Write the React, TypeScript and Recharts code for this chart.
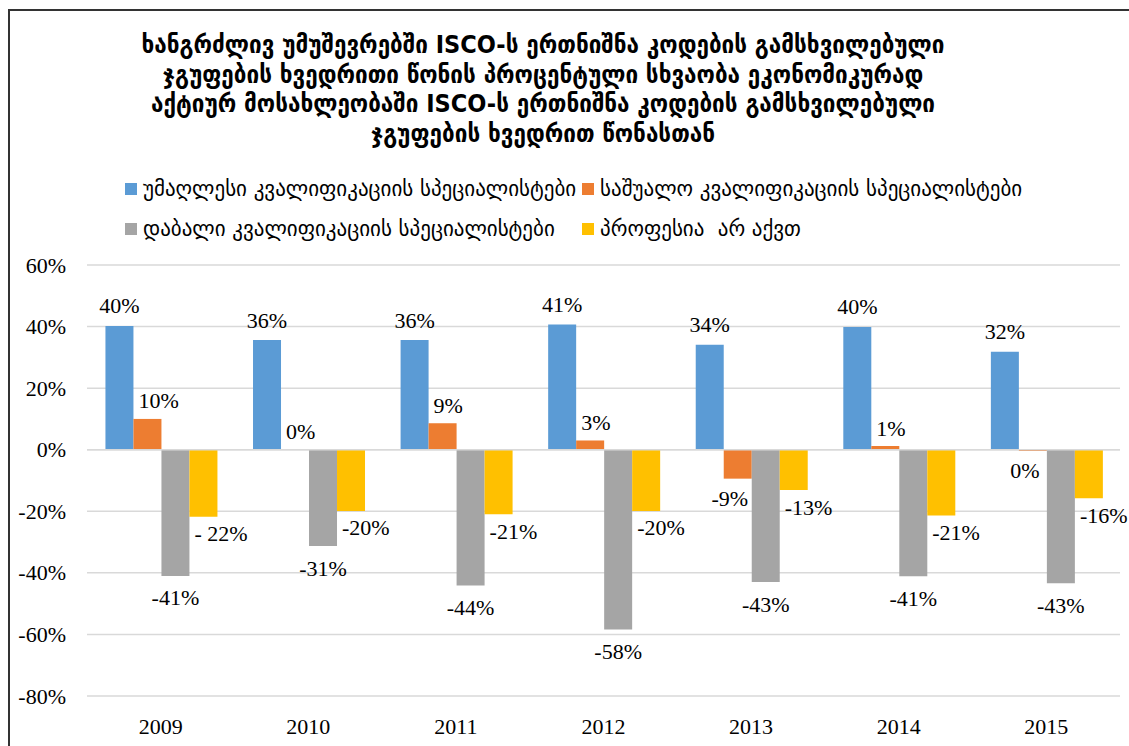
import React from 'react';
import {
  BarChart,
  Bar,
  XAxis,
  YAxis,
  CartesianGrid,
  ReferenceLine,
  LabelList,
} from 'recharts';

// years on the horizontal axis
const years = ['2009', '2010', '2011', '2012', '2013', '2014', '2015'];

// percentage point differences
const highSkill = [40.2, 35.6, 35.6, 40.7, 34.1, 39.9, 31.8];
const midSkill = [10.0, 0.2, 8.6, 3.0, -9.4, 1.2, -0.4];
const lowSkill = [-41.0, -31.3, -44.1, -58.4, -43.0, -41.1, -43.4];
const noProfession = [-21.8, -19.9, -21.0, -19.9, -13.1, -21.4, -15.8];

// data labels as printed on the chart
const highLabels = ['40%', '36%', '36%', '41%', '34%', '40%', '32%'];
const midLabels = ['10%', '0%', '9%', '3%', '-9%', '1%', '0%'];
const lowLabels = ['-41%', '-31%', '-44%', '-58%', '-43%', '-41%', '-43%'];
const noProfLabels = ['- 22%', '-20%', '-21%', '-20%', '-13%', '-21%', '-16%'];

const yTicks = [-80, -60, -40, -20, 0, 20, 40, 60];

const titleLines = [
  'ხანგრძლივ უმუშევრებში ISCO-ს ერთნიშნა კოდების გამსხვილებული',
  'ჯგუფების ხვედრითი წონის პროცენტული სხვაობა ეკონომიკურად',
  'აქტიურ მოსახლეობაში ISCO-ს ერთნიშნა კოდების გამსხვილებული',
  'ჯგუფების ხვედრით წონასთან',
];

const seriesNames = [
  'უმაღლესი კვალიფიკაციის სპეციალისტები',
  'საშუალო კვალიფიკაციის სპეციალისტები',
  'დაბალი კვალიფიკაციის სპეციალისტები',
  'პროფესია  არ აქვთ',
];
const seriesColors = ['#5b9bd5', '#ed7d31', '#a5a5a5', '#ffc000'];

const data = years.map((year, i) => ({
  year,
  high: highSkill[i],
  mid: midSkill[i],
  low: lowSkill[i],
  none: noProfession[i],
}));

const numFont = '"Liberation Serif", "Times New Roman", serif';
const geoFont = '"DejaVu Sans", sans-serif';

type LabelMode = 'high' | 'mid' | 'low' | 'none';

function makeLabel(mode: LabelMode, texts: string[], values: number[]) {
  // eslint-disable-next-line @typescript-eslint/no-explicit-any
  return (props: any) => {
    const vb = props.viewBox || props;
    const x = Number(props.x ?? vb.x);
    const y = Number(props.y ?? vb.y);
    const w = Number(props.width ?? vb.width);
    const h = Number(props.height ?? vb.height);
    const idx = props.index;
    if (idx == null || isNaN(x)) return null;
    const top = Math.min(y, y + h);
    const bottom = Math.max(y, y + h);
    const cx = x + w / 2;
    const v = values[idx];
    let tx = cx;
    let ty = top - 20;
    let anchor: 'middle' | 'start' = 'middle';
    if (mode === 'mid') {
      if (v >= 0) {
        tx = x + 5;
        anchor = 'start';
        ty = top - 18;
      } else {
        tx = cx - 8;
        ty = bottom + 20;
      }
    } else if (mode === 'low') {
      ty = bottom + 22;
    } else if (mode === 'none') {
      tx = cx - 9;
      anchor = 'start';
      ty = bottom + 17;
    }
    return (
      <text
        x={tx}
        y={ty}
        textAnchor={anchor}
        dominantBaseline="central"
        fontFamily={numFont}
        fontSize={22}
        fill="#000"
        style={{ whiteSpace: 'pre' }}
      >
        {texts[idx]}
      </text>
    );
  };
}

// eslint-disable-next-line @typescript-eslint/no-explicit-any
const YTick = (props: any) => (
  <text x={props.x} y={props.y} textAnchor="end" dominantBaseline="central" fontFamily={numFont} fontSize={22} fill="#000">
    {`${props.payload.value}%`}
  </text>
);

// eslint-disable-next-line @typescript-eslint/no-explicit-any
const XTick = (props: any) => (
  <text x={props.x} y={props.y} textAnchor="middle" dominantBaseline="central" fontFamily={numFont} fontSize={22} fill="#000">
    {props.payload.value}
  </text>
);

export default function App() {
  return (
    <div style={{ position: 'absolute', left: 0, top: 0, width: 1129, height: 746, overflow: 'hidden', background: '#fff' }}>
      {/* frame, right and bottom edges fall outside the picture */}
      <div
        style={{
          position: 'absolute',
          left: 8,
          top: 9,
          width: 1200,
          height: 800,
          borderLeft: '2px solid #333',
          borderTop: '2px solid #333',
        }}
      />
      <div
        style={{
          position: 'absolute',
          left: 0,
          top: 30,
          width: 1086,
          textAlign: 'center',
          fontFamily: '"DejaVu Sans Condensed", "DejaVu Sans", sans-serif',
          fontWeight: 'bold',
          fontSize: 25,
          lineHeight: '29.7px',
          color: '#000',
        }}
      >
        {titleLines.map((t) => (
          <div key={t}>{t}</div>
        ))}
      </div>
      {seriesNames.map((name, i) => {
        const col = i % 2;
        const row = Math.floor(i / 2);
        const left = col === 0 ? 125 : 582;
        const cy = row === 0 ? 189 : 229;
        return (
          <div key={name} style={{ position: 'absolute', left, top: cy - 15, height: 30, display: 'flex', alignItems: 'center' }}>
            <div style={{ width: 12, height: 12, background: seriesColors[i], marginRight: 6 }} />
            <span style={{ fontFamily: geoFont, fontSize: 21, color: '#000', whiteSpace: 'pre' }}>{name}</span>
          </div>
        );
      })}
      <div style={{ position: 'absolute', left: 0, top: 0 }}>
        <BarChart
          width={1129}
          height={746}
          data={data}
          margin={{ top: 265, right: 9, bottom: 0, left: 0 }}
          barCategoryGap="12.5%"
          barGap={0}
        >
          <CartesianGrid vertical={false} stroke="#d9d9d9" strokeWidth={1.5} />
          <XAxis
            dataKey="year"
            interval={0}
            axisLine={false}
            tickLine={false}
            tickSize={0}
            tickMargin={30}
            height={50}
            tick={<XTick />}
          />
          <YAxis
            domain={[-80, 60]}
            ticks={yTicks}
            interval={0}
            width={87}
            axisLine={false}
            tickLine={false}
            tickSize={0}
            tickMargin={21}
            tick={<YTick />}
          />
          <ReferenceLine y={0} stroke="#d9d9d9" strokeWidth={1.5} />
          <Bar dataKey="high" fill={seriesColors[0]} isAnimationActive={false}>
            <LabelList dataKey="high" content={makeLabel('high', highLabels, highSkill)} />
          </Bar>
          <Bar dataKey="mid" fill={seriesColors[1]} isAnimationActive={false}>
            <LabelList dataKey="mid" content={makeLabel('mid', midLabels, midSkill)} />
          </Bar>
          <Bar dataKey="low" fill={seriesColors[2]} isAnimationActive={false}>
            <LabelList dataKey="low" content={makeLabel('low', lowLabels, lowSkill)} />
          </Bar>
          <Bar dataKey="none" fill={seriesColors[3]} isAnimationActive={false}>
            <LabelList dataKey="none" content={makeLabel('none', noProfLabels, noProfession)} />
          </Bar>
        </BarChart>
      </div>
    </div>
  );
}
